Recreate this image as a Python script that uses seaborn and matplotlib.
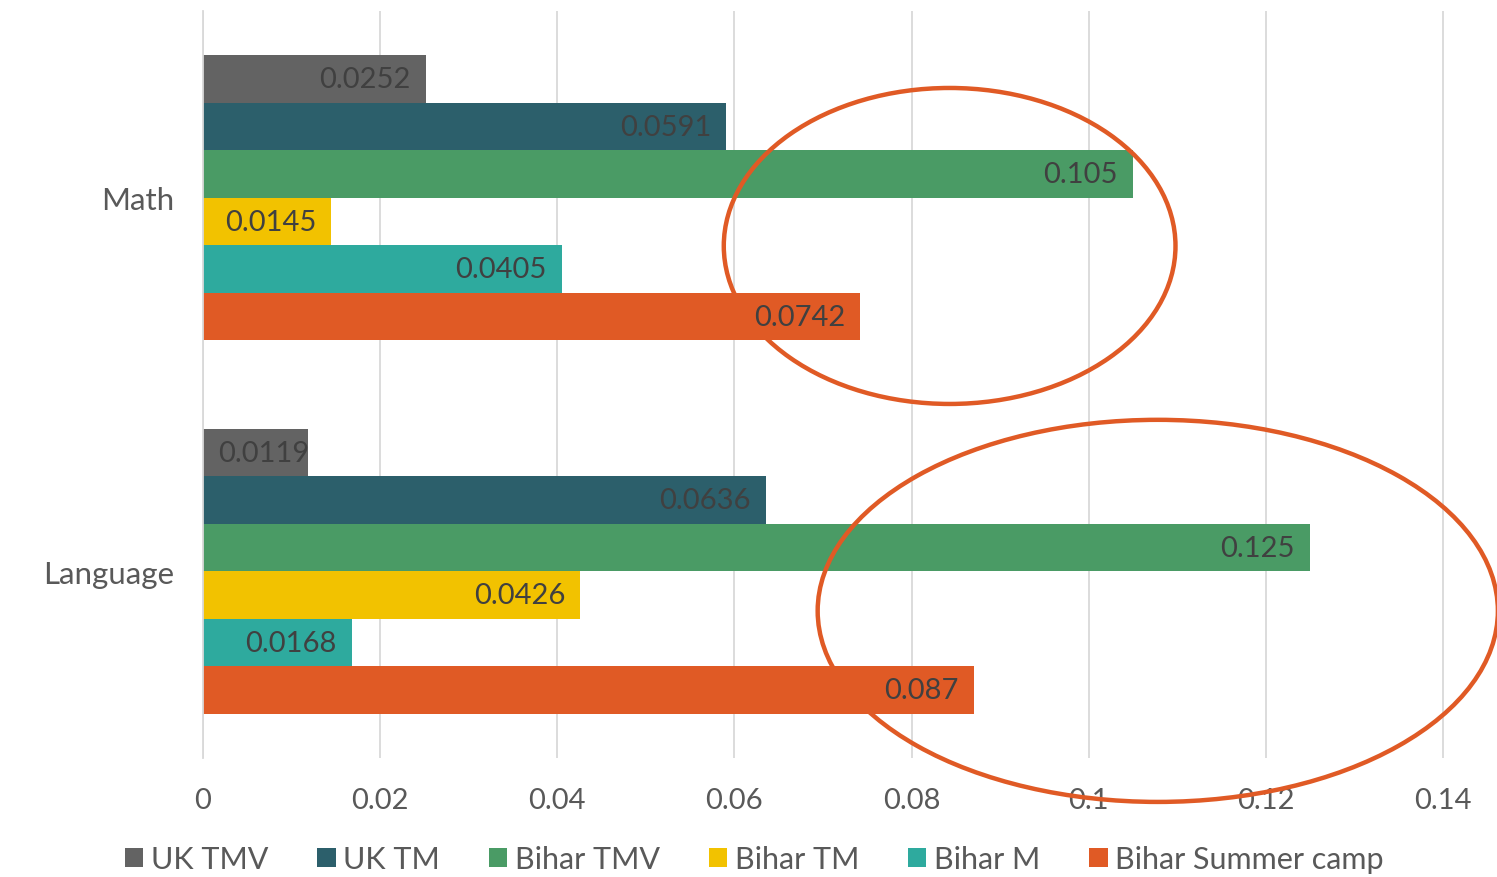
import matplotlib
matplotlib.use("Agg")
import matplotlib.pyplot as plt
import seaborn as sns
import pandas as pd
from matplotlib.patches import Ellipse

categories = ["Math", "Language"]
series = ["UK TMV", "UK TM", "Bihar TMV", "Bihar TM", "Bihar M", "Bihar Summer camp"]
uk_tmv = [0.0252, 0.0119]
uk_tm = [0.0591, 0.0636]
bihar_tmv = [0.105, 0.125]
bihar_tm = [0.0145, 0.0426]
bihar_m = [0.0405, 0.0168]
bihar_camp = [0.0742, 0.087]
labels_fmt = [["0.0252", "0.0119"], ["0.0591", "0.0636"], ["0.105", "0.125"],
              ["0.0145", "0.0426"], ["0.0405", "0.0168"], ["0.0742", "0.087"]]
x_ticks = [0, 0.02, 0.04, 0.06, 0.08, 0.1, 0.12, 0.14]
x_ticklabels = ["0", "0.02", "0.04", "0.06", "0.08", "0.1", "0.12", "0.14"]

colors = ["#636363", "#2C5F6B", "#4A9B65", "#F2C200", "#2EAA9E", "#E05A25"]

values = [uk_tmv, uk_tm, bihar_tmv, bihar_tm, bihar_m, bihar_camp]
rows = []
for s, vals in zip(series, values):
    for c, v in zip(categories, vals):
        rows.append({"Category": c, "Series": s, "Value": v})
df = pd.DataFrame(rows)

sns.set_theme(style="white")
plt.rcParams["font.family"] = ["Lato", "DejaVu Sans"]

fig = plt.figure(figsize=(14.97, 8.78), dpi=100)
ax = fig.add_axes([0.1356, 0.1355, 1 - 0.1356, 0.9863 - 0.1355])

sns.barplot(data=df, y="Category", x="Value", hue="Series", orient="h",
            order=categories, hue_order=series, palette=colors, width=0.763,
            saturation=1, ax=ax, legend=True, edgecolor="none", linewidth=0)

ax.set_xlim(0, 0.1461)
ax.set_ylim(1.5, -0.5)
ax.set_xticks(x_ticks)
ax.set_xticklabels(x_ticklabels)
ax.xaxis.grid(True, color="#D9D9D9", linewidth=1.3)
ax.yaxis.grid(False)
ax.set_axisbelow(True)
for s in ["top", "right", "bottom"]:
    ax.spines[s].set_visible(False)
ax.spines["left"].set_color("#D9D9D9")
ax.spines["left"].set_linewidth(1.3)
ax.tick_params(axis="x", length=0, pad=21, labelsize=21, labelcolor="#595959")
ax.tick_params(axis="y", length=0, pad=21, labelsize=22.5, labelcolor="#595959")
ax.set_xlabel("")
ax.set_ylabel("")

# data labels
texts = []
for cont, labs in zip(ax.containers, labels_fmt):
    for p, lab in zip(cont.patches, labs):
        t = ax.annotate(lab, (p.get_width(), p.get_y() + p.get_height() / 2),
                        xytext=(-11, 0), textcoords="offset points",
                        ha="right", va="center", fontsize=21, color="#404040")
        texts.append((t, p))
fig.canvas.draw()
r = fig.canvas.get_renderer()
ax_x0 = ax.transData.transform((0, 0))[0]
for t, p in texts:
    bb = t.get_window_extent(r)
    if bb.x0 < ax_x0 + 15:
        t.xy = (0, p.get_y() + p.get_height() / 2)
        t.set_ha("left")
        t.xyann = (11, 0)

# annotation ellipses
ax.add_patch(Ellipse((0.0843, 0.129), 0.051, 0.846, fill=False,
                     edgecolor="#E05A25", linewidth=3.2, clip_on=False, zorder=5))
ax.add_patch(Ellipse((0.1078, 1.106), 0.0768, 1.023, fill=False,
                     edgecolor="#E05A25", linewidth=3.2, clip_on=False, zorder=5))

leg = ax.get_legend()
handles = leg.legend_handles
leg.remove()
fig.legend(handles, series, loc="center", bbox_to_anchor=(0.504, 0.02), ncol=6,
           frameon=False, fontsize=22, labelcolor="#595959",
           handlelength=0.6, handleheight=0.6, handletextpad=0.25,
           columnspacing=1.6, borderaxespad=0)

fig.savefig("out.png", dpi=100)
